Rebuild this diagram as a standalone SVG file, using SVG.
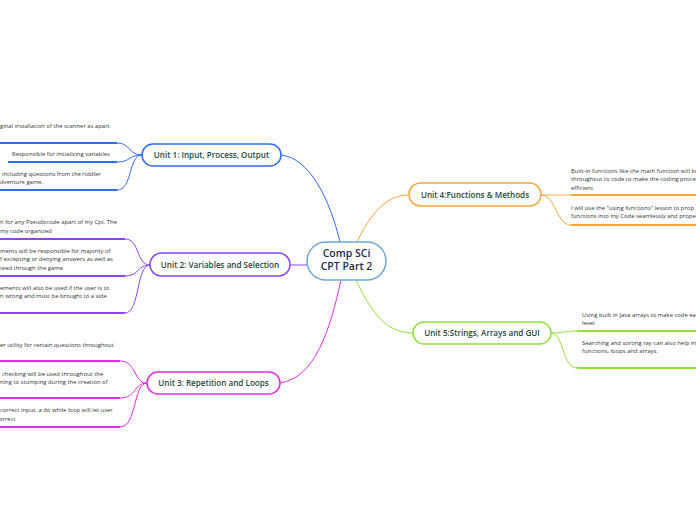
<svg xmlns="http://www.w3.org/2000/svg" width="696" height="520" viewBox="0 0 696 520">
<style>
.leaf{font-family:"Open Sans","Noto Sans",sans-serif;font-size:5.9px;fill:#333}
.unit{font-family:"Open Sans","Noto Sans",sans-serif;font-size:8.1px;font-weight:600;fill:#1d4a3a;text-anchor:middle}
.pill{fill:#fff;stroke-width:1.5}
.con{fill:none;stroke-width:1}
.ul{fill:none;stroke-width:2}
</style>
<rect width="696" height="520" fill="#fff"/>
<g id="connectors">
<path class="con" stroke="#2f6bf5" stroke-width="1.3" d="M281,155 C310,158 330,200 340,242"/>
<path class="con" stroke="#f9a63b" stroke-width="1.3" d="M357,242 C370,215 385,195 409,195"/>
<path class="con" stroke="#8a45f5" stroke-width="1.3" d="M290,265 L307,265"/>
<path class="con" stroke="#e32de3" stroke-width="1.3" d="M341,280 C330,330 315,378 280,383"/>
<path class="con" stroke="#90e23c" stroke-width="1.3" d="M356,280 C370,310 385,333 413,333"/>
<g stroke="#2f6bf5" class="con"><path d="M142,155 C128,155 131,143 117,143"/><path d="M142,155 C128,155 131,162 117,162"/><path d="M142,155 C128,155 133,190 117,190"/></g>
<g stroke="#8a45f5" class="con"><path d="M150,265 C136,265 140,239 125,239"/><path d="M150,265 C136,265 140,276 125,276"/><path d="M150,265 C136,265 140,313 125,313"/></g>
<g stroke="#e32de3" class="con"><path d="M147,383 C133,383 137,361 120,361"/><path d="M147,383 C133,383 137,398 120,398"/><path d="M147,383 C133,383 137,427 120,427"/></g>
<g stroke="#f9a63b" class="con"><path d="M541,195 L571,195"/><path d="M541,195 C556,195 556,225 571,225"/></g>
<g stroke="#90e23c" class="con"><path d="M551,333 C564,333 564,331 577,331"/><path d="M551,333 C564,333 562,368 577,368"/></g>
</g>
<g id="center"><rect x="307" y="242" width="79" height="38" rx="19" fill="#fff" stroke="#6ea8d8" stroke-width="1.5"/>
<text x="346.5" y="257" font-family="'Open Sans','Noto Sans',sans-serif" font-size="10.5" font-weight="600" fill="#1c2a4d" text-anchor="middle">Comp SCi</text>
<text x="346.5" y="269.5" font-family="'Open Sans','Noto Sans',sans-serif" font-size="10.5" font-weight="600" fill="#1c2a4d" text-anchor="middle">CPT Part 2</text></g>
<g id="unit1"><rect class="pill" x="142" y="144" width="139" height="22" rx="11" stroke="#2f6bf5"/><text class="unit" x="211.5" y="158">Unit 1: Input, Process, Output</text></g>
<g id="unit2"><rect class="pill" x="150" y="253" width="140" height="23" rx="11.5" stroke="#8a45f5"/><text class="unit" x="220" y="267.5">Unit 2: Variables and Selection</text></g>
<g id="unit3"><rect class="pill" x="147" y="372" width="133" height="22" rx="11" stroke="#e32de3"/><text class="unit" x="213.5" y="386">Unit 3: Repetition and Loops</text></g>
<g id="unit4"><rect class="pill" x="409" y="183" width="132" height="23" rx="11.5" stroke="#f9a63b"/><text class="unit" x="475" y="197.5">Unit 4:Functions &amp; Methods</text></g>
<g id="unit5"><rect class="pill" x="413" y="322" width="138" height="22" rx="11" stroke="#90e23c"/><text class="unit" x="482" y="336">Unit 5:Strings, Arrays and GUI</text></g>
<g id="u1c1"><text class="leaf" x="0" y="127.5">ginal installation of the scanner as apart</text><path class="ul" stroke="#2f6bf5" d="M0,143 H117"/></g>
<g id="u1c2"><text class="leaf" x="12" y="156">Responsible for initializing variables</text><path class="ul" stroke="#2f6bf5" d="M8,162 H117"/></g>
<g id="u1c3"><text class="leaf" x="2" y="176">including questions from the riddler</text><text class="leaf" x="0" y="184">dventure game.</text><path class="ul" stroke="#2f6bf5" d="M0,190 H117"/></g>
<g id="u2c1"><text class="leaf" x="0" y="224">n for any Pseudocode apart of my Cpt. The</text><text class="leaf" x="0" y="233">my code organized</text><path class="ul" stroke="#8a45f5" d="M0,239 H125"/></g>
<g id="u2c2"><text class="leaf" x="0" y="252.5">ments will be responsible for majority of</text><text class="leaf" x="0" y="261">f excepting or denying answers as well as</text><text class="leaf" x="-1" y="269.5">ceed through the game</text><path class="ul" stroke="#8a45f5" d="M0,276 H125"/></g>
<g id="u2c3"><text class="leaf" x="0" y="290">ements will also be used if the user is to</text><text class="leaf" x="0" y="298">n wrong and must be brought to a side</text><path class="ul" stroke="#8a45f5" d="M0,313 H125"/></g>
<g id="u3c1"><text class="leaf" x="0" y="346.5">er utility for certain questions throughout</text><path class="ul" stroke="#e32de3" d="M0,361 H120"/></g>
<g id="u3c2"><text class="leaf" x="2" y="375.5">checking will be used throughout the</text><text class="leaf" x="0" y="384">ning to stumping during the creation of</text><path class="ul" stroke="#e32de3" d="M0,398 H120"/></g>
<g id="u3c3"><text class="leaf" x="0" y="411.5">correct input, a do while loop will let user</text><text class="leaf" x="-1" y="420.5">orrect</text><path class="ul" stroke="#e32de3" d="M0,427 H120"/></g>
<g id="u4c1"><text class="leaf" x="571" y="172.5">Built-in functions like the math function will be</text><text class="leaf" x="571" y="181">throughout to code to make the coding proce</text><text class="leaf" x="571" y="189.5">efficient</text><path class="ul" stroke="#f9a63b" d="M571,195 H696"/></g>
<g id="u4c2"><text class="leaf" x="571" y="209.5">I will use the "using functions" lesson to prop</text><text class="leaf" x="571" y="218">functions into my Code seamlessly and prope</text><path class="ul" stroke="#f9a63b" d="M571,225 H696"/></g>
<g id="u5c1"><text class="leaf" x="582" y="316.5">Using built in Java arrays to make code ea</text><text class="leaf" x="582" y="324.5">level.</text><path class="ul" stroke="#90e23c" d="M577,331 H696"/></g>
<g id="u5c2"><text class="leaf" x="582" y="344.5">Searching and sorting ray can also help m</text><text class="leaf" x="582" y="352.5">functions, loops and arrays.</text><path class="ul" stroke="#90e23c" d="M577,368 H696"/></g>
</svg>
